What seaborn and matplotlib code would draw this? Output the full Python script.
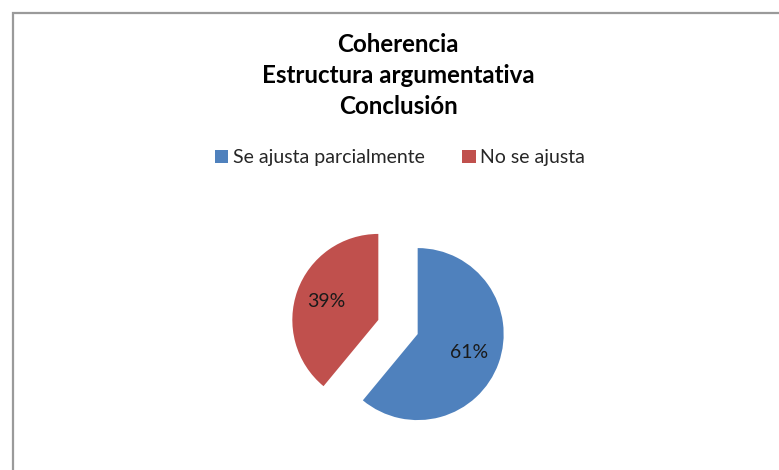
import matplotlib
matplotlib.use("Agg")
import matplotlib.pyplot as plt
import seaborn as sns
from matplotlib.patches import Rectangle, Patch

# Chart data
categories = ["Se ajusta parcialmente", "No se ajusta"]
shares = [61, 39]
slice_colors = ["#4F81BD", "#C0504D"]
title_lines = ["Coherencia", "Estructura argumentativa", "Conclusión"]

sns.set_theme(style="white")
plt.rcParams["font.family"] = ["Lato", "DejaVu Sans"]

W, H = 779, 470
fig = plt.figure(figsize=(W / 100, H / 100), dpi=100)
fig.patch.set_facecolor("white")

# Excel-style chart frame (top/left visible, cut at right/bottom)
fig.patches.append(
    Rectangle((12.5 / W, -0.05), 1.2, (H - 12.5) / H + 0.05,
              transform=fig.transFigure, fill=False,
              edgecolor="#9a9a9a", linewidth=1.6, zorder=0)
)

# Pie axes: 1 data unit = radius ~86 px, centered at (398, 327)
r_px = 86
cx, cy = 398, 327
half = 1.5 * r_px
ax = fig.add_axes([(cx - half) / W, (H - cy - half) / H, 2 * half / W, 2 * half / H])
wedges, texts, autotexts = ax.pie(
    shares,
    colors=slice_colors,
    startangle=90,
    counterclock=False,
    explode=[0.243, 0.243],
    autopct="%d%%",
    pctdistance=0.64,
    textprops={"fontsize": 14, "color": "#1a1a1a"},
    wedgeprops={"linewidth": 0},
)
ax.set_xlim(-1.5, 1.5)
ax.set_ylim(-1.5, 1.5)
ax.set_aspect("equal")
ax.axis("off")

# Title
for i, line in enumerate(title_lines):
    fig.text(398 / W, 1 - (45 + 30.5 * i) / H, line, ha="center", va="center",
             fontsize=17.4, fontweight="bold", color="black")

# Legend
handles = [Patch(facecolor=c, edgecolor="none") for c in slice_colors]
fig.legend(handles, categories, loc="center", bbox_to_anchor=(400 / W, 1 - 158 / H),
           ncol=2, frameon=False, fontsize=14, handlelength=0.7, handleheight=0.7,
           handletextpad=0.25, columnspacing=1.9)

fig.savefig("out.png", dpi=100)
